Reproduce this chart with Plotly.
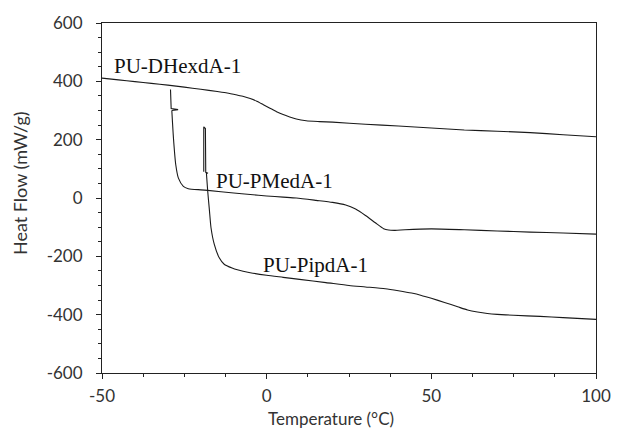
import plotly.graph_objects as go

# ---- data ----
dhex_T = [-50, -45, -40, -35, -30, -25, -20, -15, -12, -9, -7, -5, -3, -1, 1, 3, 5, 7, 9, 12, 16,
          20, 30, 40, 50, 60, 70, 80, 90, 100]
dhex_H = [411, 405, 399, 393, 387, 380, 373, 365, 360, 353, 348, 341, 332, 320, 308, 296, 286, 278, 271, 265, 262,
          260, 253, 247, 240, 233, 229, 224, 217, 210]

# start-up transient (spike + hook) of PU-PMedA-1
pmed_spike_T = [-29.2, -29.0, -26.9, -28.8]
pmed_spike_H = [372, 307, 303, 300]
pmed_T = [-28.8, -28.3, -27.6, -26.8, -25.3, -23.8, -20, -17.9, -10, -5, 0, 5, 9,
          15, 20, 24, 27, 30, 33, 35.5, 37, 39, 42, 50, 60, 70, 80, 90, 100]
pmed_H = [300, 205, 114, 68, 40, 32, 28, 26, 17, 12, 7, 3, 0,
          -8, -15, -24, -38, -60, -85, -105, -110, -111, -109, -106, -109, -113, -117, -120, -124]

# start-up transient (spike + hook) of PU-PipdA-1
pipd_spike_T = [-19.1, -19.1, -18.6, -18.5, -17.8, -18.3]
pipd_spike_H = [90, 244, 238, 88, 85, 86]
pipd_T = [-18.3, -17.9, -17.4, -16.9, -15.9, -14.4, -12.9, -10.5,
          -8.9, -5, 0, 5, 10, 18, 25, 30, 36, 40, 44, 47, 50, 54, 58, 61, 64, 67, 70, 75, 83, 90, 100]
pipd_H = [86, 23, -40, -102, -159, -205, -227, -240,
          -246, -256, -265, -272, -279, -290, -300, -305, -311, -318, -326, -334, -344, -358, -373, -384,
          -391, -396, -399, -402, -406, -410, -416]

series_names = ["PU-DHexdA-1", "PU-PMedA-1", "PU-PipdA-1"]
label_T = [-46.9, -15.9, -1.6]
label_H = [452, 57, -230]

x_ticks = [-50, 0, 50, 100]
x_ticktext = ["-50", "0", "50", "100"]
y_ticks = [-600, -400, -200, 0, 200, 400, 600]
y_ticktext = ["-600", "-400", "-200", "0", "200", "400", "600"]

x_title = "Temperature (°C)"
y_title = "Heat Flow (mW/g)"

# ---- figure ----
fig = go.Figure()
line_style = dict(color="#1a1a1a", width=1.1)

for T, H in [(pmed_spike_T, pmed_spike_H), (pipd_spike_T, pipd_spike_H)]:
    fig.add_trace(go.Scatter(x=T, y=H, mode="lines", line=line_style,
                             showlegend=False, hoverinfo="skip"))

for T, H, name in [(dhex_T, dhex_H, series_names[0]),
                   (pmed_T, pmed_H, series_names[1]),
                   (pipd_T, pipd_H, series_names[2])]:
    fig.add_trace(go.Scatter(x=T, y=H, mode="lines", name=name,
                             line=dict(color="#1a1a1a", width=1.1, shape="spline", smoothing=0.6),
                             showlegend=False, hoverinfo="skip"))

for name, tx, ty in zip(series_names, label_T, label_H):
    fig.add_annotation(x=tx, y=ty, xref="x", yref="y", text=name, showarrow=False,
                       xanchor="left", yanchor="middle",
                       font=dict(family="Liberation Serif", size=21, color="#111"))

tick_font = dict(family="Lato", size=17, color="#333")
fig.update_xaxes(range=[-50, 100], tickvals=x_ticks, ticktext=x_ticktext,
                 ticks="outside", ticklen=5, tickcolor="#222", tickwidth=1,
                 minor=dict(dtick=12.5, ticks="outside", ticklen=3, tickcolor="#222", showgrid=False),
                 showline=True, linecolor="#222", linewidth=1, mirror=True,
                 showgrid=False, zeroline=False, tickfont=tick_font, ticklabelstandoff=3)
fig.update_yaxes(range=[-600, 600], tickvals=y_ticks, ticktext=y_ticktext,
                 ticks="outside", ticklen=5, tickcolor="#222", tickwidth=1,
                 minor=dict(dtick=50, ticks="outside", ticklen=3, tickcolor="#222", showgrid=False),
                 showline=True, linecolor="#222", linewidth=1, mirror=True,
                 showgrid=False, zeroline=False, tickfont=tick_font, ticklabelstandoff=10)

fig.add_annotation(x=0.464, y=-0.1287, xref="paper", yref="paper", text=x_title, showarrow=False,
                   xanchor="center", yanchor="middle", font=dict(family="Lato", size=17, color="#333"))
fig.add_annotation(x=-0.1647, y=0.5418, xref="paper", yref="paper", text=y_title, showarrow=False,
                   textangle=-90, xanchor="center", yanchor="middle",
                   font=dict(family="Lato", size=18, color="#333"))

fig.update_layout(width=623, height=430, margin=dict(l=102, r=17, t=21, b=57),
                  plot_bgcolor="white", paper_bgcolor="white")

fig.write_html("out.html", config={"displayModeBar": False},
               post_script="document.body.style.margin='0px';")
